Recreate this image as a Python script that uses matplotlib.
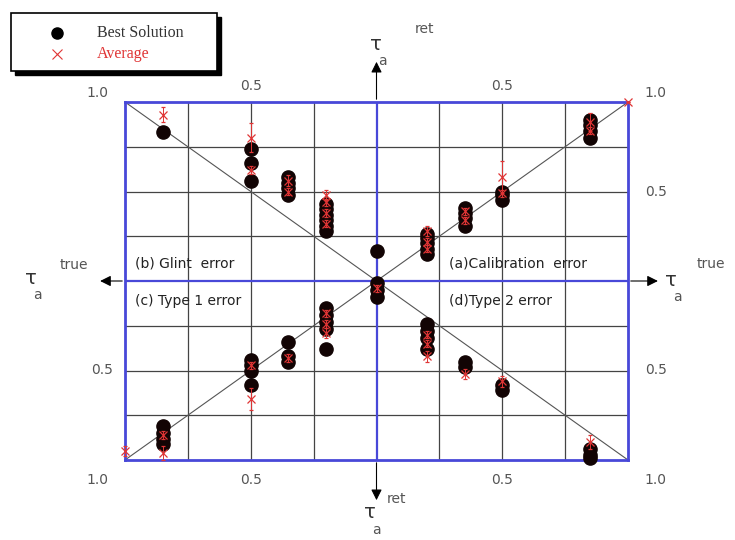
import matplotlib.pyplot as plt
from matplotlib.patches import Rectangle
from matplotlib.lines import Line2D

# tau_true / tau_ret, per quadrant (unsigned values)
# (a) calibration error: upper right
a_best_x = [0.0, 0.2, 0.2, 0.2, 0.2, 0.2, 0.35, 0.35, 0.35, 0.35, 0.5, 0.5, 0.5, 0.85, 0.85, 0.85, 0.85]
a_best_y = [0.17, 0.15, 0.18, 0.21, 0.24, 0.26, 0.31, 0.35, 0.38, 0.41, 0.45, 0.48, 0.50, 0.80, 0.84, 0.87, 0.90]
a_avg_x = [0.2, 0.2, 0.2, 0.35, 0.35, 0.5, 0.5, 0.85, 0.85, 1.0]
a_avg_y = [0.18, 0.22, 0.28, 0.34, 0.39, 0.49, 0.58, 0.84, 0.89, 1.0]
a_avg_err = [0.02, 0.02, 0.03, 0.02, 0.02, 0.02, 0.09, 0.02, 0.05, 0.0]

# (b) glint error: upper left
b_best_x = [0.2, 0.2, 0.2, 0.2, 0.2, 0.2, 0.35, 0.35, 0.35, 0.35, 0.5, 0.5, 0.5, 0.85]
b_best_y = [0.28, 0.31, 0.34, 0.37, 0.40, 0.43, 0.48, 0.52, 0.55, 0.58, 0.56, 0.66, 0.74, 0.83]
b_avg_x = [0.2, 0.2, 0.2, 0.2, 0.35, 0.35, 0.5, 0.5, 0.85]
b_avg_y = [0.32, 0.38, 0.44, 0.48, 0.50, 0.56, 0.62, 0.80, 0.93]
b_avg_err = [0.02, 0.02, 0.02, 0.03, 0.02, 0.03, 0.02, 0.08, 0.04]

# (c) type 1 error: lower left
c_best_x = [0.2, 0.2, 0.2, 0.2, 0.2, 0.35, 0.35, 0.35, 0.5, 0.5, 0.5, 0.5, 0.85, 0.85, 0.85, 0.85]
c_best_y = [0.15, 0.19, 0.23, 0.27, 0.38, 0.34, 0.42, 0.45, 0.44, 0.47, 0.50, 0.58, 0.81, 0.85, 0.88, 0.91]
c_avg_x = [0.2, 0.2, 0.2, 0.35, 0.5, 0.5, 0.85, 0.85, 1.0]
c_avg_y = [0.18, 0.24, 0.29, 0.43, 0.47, 0.66, 0.86, 0.96, 0.95]
c_avg_err = [0.02, 0.02, 0.03, 0.02, 0.02, 0.06, 0.02, 0.04, 0.03]

# (d) type 2 error: lower right
d_best_x = [0.0, 0.0, 0.0, 0.2, 0.2, 0.2, 0.2, 0.35, 0.35, 0.5, 0.5, 0.85, 0.85, 0.85]
d_best_y = [0.01, 0.05, 0.09, 0.24, 0.28, 0.32, 0.38, 0.45, 0.48, 0.58, 0.61, 0.94, 0.97, 0.99]
d_avg_x = [0.0, 0.2, 0.2, 0.2, 0.35, 0.5, 0.85]
d_avg_y = [0.04, 0.30, 0.35, 0.42, 0.52, 0.56, 0.90]
d_avg_err = [0.02, 0.02, 0.02, 0.03, 0.03, 0.03, 0.04]

quadrants = [
    (1, 1, a_best_x, a_best_y, a_avg_x, a_avg_y, a_avg_err),
    (-1, 1, b_best_x, b_best_y, b_avg_x, b_avg_y, b_avg_err),
    (-1, -1, c_best_x, c_best_y, c_avg_x, c_avg_y, c_avg_err),
    (1, -1, d_best_x, d_best_y, d_avg_x, d_avg_y, d_avg_err),
]

quad_labels = ['(a)Calibration  error', '(b) Glint  error', '(c) Type 1 error', '(d)Type 2 error']

blue = '#4848d8'
red = '#e03535'
grey = '#444444'

fig = plt.figure(figsize=(7.35, 5.4), dpi=100)
ax = fig.add_axes([125 / 735, 1 - 460 / 540, 503 / 735, 358 / 540])
ax.set_xlim(-1, 1)
ax.set_ylim(-1, 1)
ax.set_xticks([])
ax.set_yticks([])
for s in ax.spines.values():
    s.set_color(blue)
    s.set_linewidth(2)

# grid
for g in [-0.75, -0.5, -0.25, 0.25, 0.5, 0.75]:
    ax.axvline(g, color=grey, lw=0.9, zorder=1)
    ax.axhline(g, color=grey, lw=0.9, zorder=1)
ax.axvline(0, color=blue, lw=1.6, zorder=1)
ax.axhline(0, color=blue, lw=1.6, zorder=1)

# 1:1 lines
ax.plot([-1, 1], [-1, 1], color='#555555', lw=0.8, zorder=2)
ax.plot([-1, 1], [1, -1], color='#555555', lw=0.8, zorder=2)

for sx, sy, bx, by, vx, vy, ve in quadrants:
    ax.plot([sx * v for v in bx], [sy * v for v in by], 'o', color='#120404',
            ms=9.5, zorder=3, clip_on=False)
    ax.errorbar([sx * v for v in vx], [sy * v for v in vy], yerr=ve, fmt='x',
                color=red, ms=6, mew=0.9, elinewidth=0.7, capsize=1.5,
                zorder=4, clip_on=False)

# quadrant titles
tkw = dict(fontsize=10, color='#222222', va='center', ha='left')
ax.text(0.29, 0.1, quad_labels[0], **tkw)
ax.text(-0.96, 0.1, quad_labels[1], **tkw)
ax.text(-0.96, -0.11, quad_labels[2], **tkw)
ax.text(0.29, -0.11, quad_labels[3], **tkw)

# axis arrows
akw = dict(arrowstyle='-|>', color='black', lw=0.8, mutation_scale=16)
ax.annotate('', xy=(0, 1.24), xytext=(0, 1.0), arrowprops=akw, annotation_clip=False)
ax.annotate('', xy=(0, -1.24), xytext=(0, -1.0), arrowprops=akw, annotation_clip=False)
ax.annotate('', xy=(-1.11, 0), xytext=(-1.0, 0), arrowprops=akw, annotation_clip=False)
ax.annotate('', xy=(1.13, 0), xytext=(1.0, 0), arrowprops=akw, annotation_clip=False)

# tick labels
lkw = dict(fontsize=10, color='#555555', ha='center', va='center')
tick_pos = [(-1.11, 1.05, '1.0'), (-0.5, 1.09, '0.5'), (0.5, 1.09, '0.5'), (1.11, 1.05, '1.0'),
            (1.11, 0.5, '0.5'), (1.11, -0.5, '0.5'), (-1.09, -0.5, '0.5'),
            (-1.11, -1.11, '1.0'), (-0.5, -1.11, '0.5'), (0.5, -1.11, '0.5'), (1.11, -1.11, '1.0')]
for x, y, t in tick_pos:
    ax.text(x, y, t, **lkw)

# axis titles (tau_a with ret / true)
def tau_label(px, py, sup, sx, sy):
    fig.text(px / 735, 1 - py / 540, 'τ', fontsize=14, color='#333333', ha='center', va='center')
    fig.text((px + 6) / 735, 1 - (py + 17) / 540, 'a', fontsize=10, color='#555555', ha='center', va='center')
    fig.text(sx / 735, 1 - sy / 540, sup, fontsize=10, color='#555555', ha='center', va='center')

tau_label(376, 44, 'ret', 424, 29)
tau_label(370, 513, 'ret', 396, 499)
tau_label(31, 278, 'true', 74, 265)
tau_label(671, 280, 'true', 711, 264)

# legend box with hard shadow
fig.add_artist(Rectangle((15 / 735, 1 - 75 / 540), 206 / 735, 58 / 540,
                         transform=fig.transFigure, facecolor='black', edgecolor='black'))
fig.add_artist(Rectangle((11 / 735, 1 - 71 / 540), 206 / 735, 58 / 540,
                         transform=fig.transFigure, facecolor='white', edgecolor='black', lw=1.2))
fig.add_artist(Line2D([57 / 735], [1 - 33 / 540], marker='o', color='black', ms=8,
                      transform=fig.transFigure))
fig.add_artist(Line2D([57 / 735], [1 - 54 / 540], marker='x', color=red, ms=7, mew=0.8,
                      transform=fig.transFigure))
fig.text(97 / 735, 1 - 33 / 540, 'Best Solution', fontsize=11.5, family='Liberation Serif',
         color='#333333', va='center')
fig.text(97 / 735, 1 - 54 / 540, 'Average', fontsize=11.5, family='Liberation Serif',
         color=red, va='center')

fig.savefig('out.png', dpi=100)
